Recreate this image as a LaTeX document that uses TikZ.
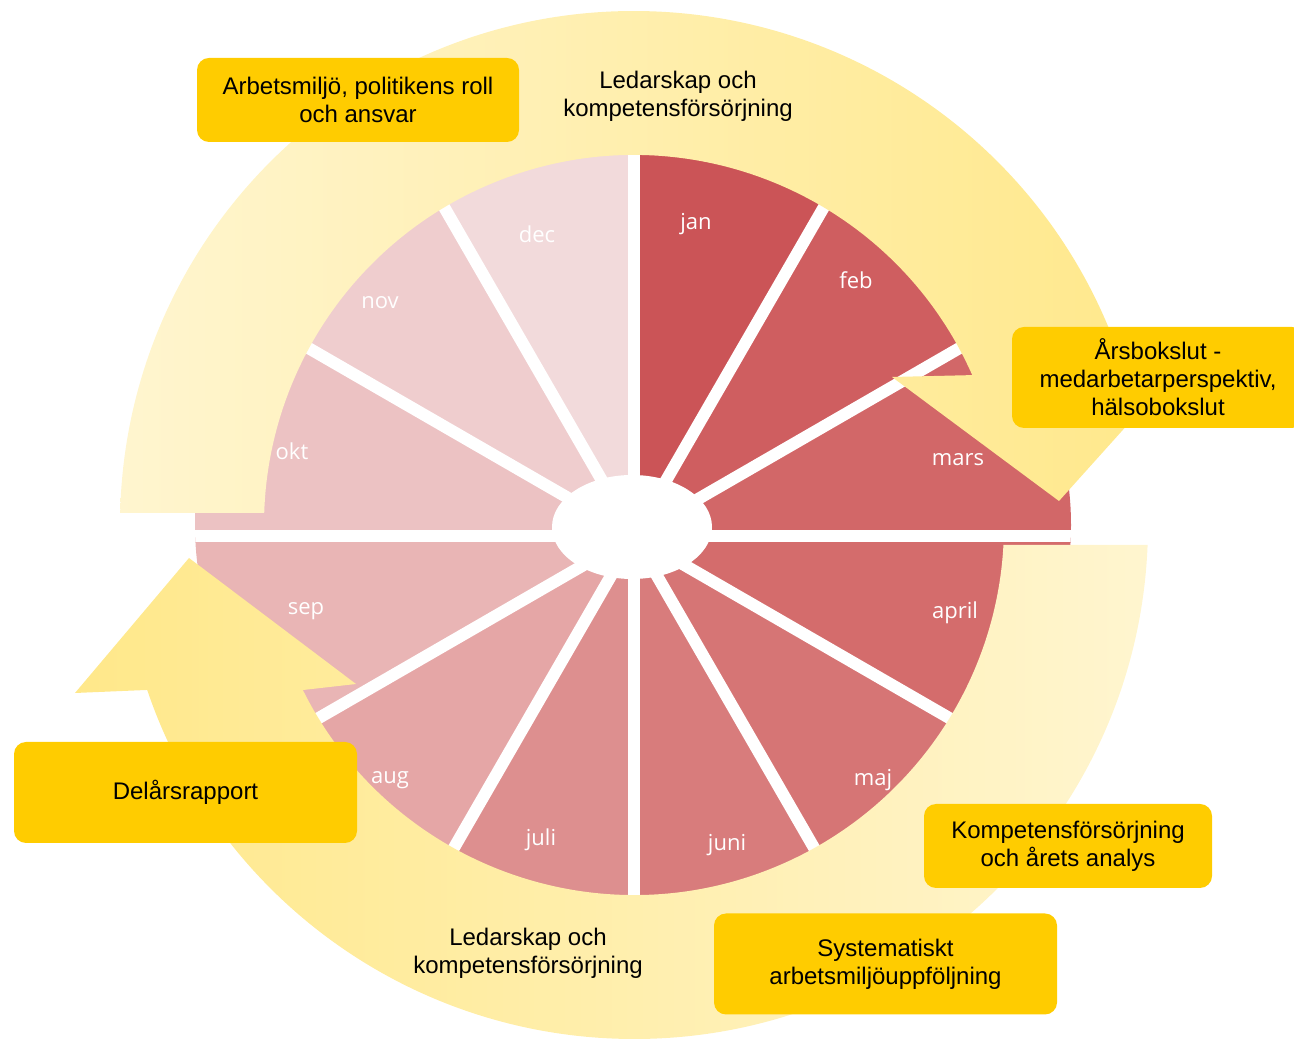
\documentclass[tikz,border=0pt]{standalone}
\usepackage{fontspec}
\setmainfont{Liberation Sans}
\newfontfamily\monthfont{Open Sans}
\usepackage{xcolor}
\usetikzlibrary{positioning}

\definecolor{gold}{HTML}{FFCC00}
\definecolor{palering}{HTML}{FFF5CF}
\definecolor{deepring}{HTML}{FFE88A}
\definecolor{mjan}{HTML}{CB5457}
\definecolor{mfeb}{HTML}{CF5E60}
\definecolor{mmars}{HTML}{D26768}
\definecolor{mapr}{HTML}{D46C6C}
\definecolor{mmaj}{HTML}{D67575}
\definecolor{mjun}{HTML}{D87C7C}
\definecolor{mjul}{HTML}{DD8F8F}
\definecolor{maug}{HTML}{E5A6A6}
\definecolor{msep}{HTML}{E9B5B5}
\definecolor{mokt}{HTML}{ECC2C3}
\definecolor{mnov}{HTML}{EFCDCE}
\definecolor{mdec}{HTML}{F2DADB}

\begin{document}
\begin{tikzpicture}[
  x=1pt,y=1pt,
  tagbox/.style ={rectangle,fill=gold,rounded corners=12pt,inner sep=0pt,
                  align=center,font=\fontsize{24}{28}\selectfont},
  theme/.style  ={align=center,inner sep=0pt,font=\fontsize{24}{28}\selectfont},
  month/.style  ={text=white,inner sep=0pt,anchor=base,
                  font=\monthfont\fontsize{22}{26}\selectfont},
  gap/.style    ={white,line width=12pt},
]
\useasboundingbox (0,0) rectangle (1294,1039);
\coordinate (O) at (634,503);   % wedge centre
\coordinate (R) at (634,514);   % ring centre

% pie
\begin{scope}
  \clip (633,514) ellipse [x radius=438pt, y radius=372pt];
  \foreach \a/\c in {60/mjan,30/mfeb,0/mmars,-30/mapr,-60/mmaj,-90/mjun,
                     -120/mjul,-150/maug,-180/msep,150/mokt,120/mnov,90/mdec}
    \fill[\c] (O) -- +(\a:700pt) -- +(\a+15:720pt) -- +(\a+30:700pt) -- cycle;
  \foreach \a in {0,30,...,330}
    \draw[gap] (O) -- +(\a:700pt);
\end{scope}
\fill[white] (632,512) ellipse [x radius=80pt, y radius=52pt];

% month labels
\node[month] (jan)  at (696,809) {jan};
\node[month] (feb)  at (856,750) {feb};
\node[month] (mars) at (958,573) {mars};
\node[month] (apr)  at (955,420) {april};
\node[month] (maj)  at (873,253) {maj};
\node[month] (juni) at (727,188) {juni};
\node[month] (juli) at (541,193) {juli};
\node[month] (aug)  at (390,255) {aug};
\node[month] (sep)  at (306,424) {sep};
\node[month] (okt)  at (292,579) {okt};
\node[month] (nov)  at (380,730) {nov};
\node[month] (dec)  at (537,796) {dec};

% ring arrows
\shade[left color=palering,right color=deepring]
  ([shift={(178.66:514pt)}]R) arc[start angle=178.66,end angle=17,radius=514pt]
  -- (1174,666) -- (1059,538) -- (892,662)
  -- ([shift={(23.9:370pt)}]R) arc[start angle=23.9,end angle=178.14,radius=370pt]
  -- cycle;
\shade[left color=deepring,right color=palering]
  ([shift={(-2.23:514pt)}]R) arc[start angle=-2.23,end angle=-161.28,radius=514pt]
  -- (75,346) -- (189,481) -- (356,355)
  -- ([shift={(-153.51:370pt)}]R) arc[start angle=-153.51,end angle=-3.1,radius=370pt]
  -- cycle;

% themes
\node[theme] (ledtop) at (678,943) {Ledarskap och\\kompetensförsörjning};
\node[theme] (ledbot) at (528,86)  {Ledarskap och\\kompetensförsörjning};

% tags
\node[tagbox,minimum width=322pt,minimum height=84pt]  (miljo)   at (358,939)
  {Arbetsmiljö, politikens roll\\och ansvar};
\node[tagbox,minimum width=292pt,minimum height=101pt] (bokslut) at (1158,661.5)
  {Årsbokslut -\\medarbetarperspektiv,\\hälsobokslut};
\node[tagbox,minimum width=343pt,minimum height=101pt] (delar)   at (185.5,246.5)
  {Delårsrapport};
\node[tagbox,minimum width=288pt,minimum height=84pt]  (analys)  at (1068,193)
  {Kompetensförsörjning\\och årets analys};
\node[tagbox,minimum width=343pt,minimum height=101pt] (uppf)    at (885.5,75)
  {Systematiskt\\arbetsmiljöuppföljning};
\end{tikzpicture}
\end{document}
